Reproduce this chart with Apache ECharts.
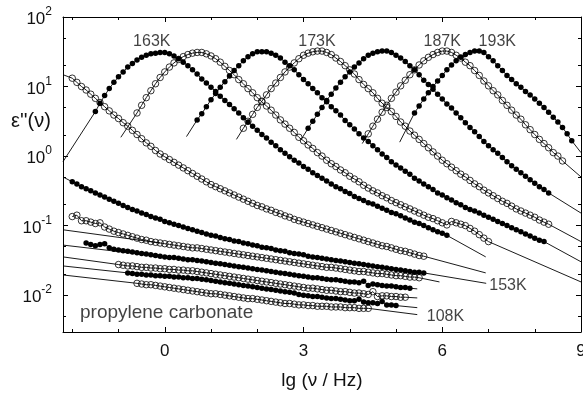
<!DOCTYPE html>
<html><head><meta charset="utf-8">
<script src="https://cdn.jsdelivr.net/npm/echarts@6/dist/echarts.min.js"></script>
<style>html,body{margin:0;padding:0;background:#fff}#c{width:583px;height:395px}</style>
</head><body><div id="c"></div>
<script>
// shared measurement grid: lg(nu/Hz)
const lgNu = [-2.0,-1.9,-1.8,-1.7,-1.6,-1.5,-1.4,-1.3,-1.2,-1.1,-1.0,-0.9,-0.8,-0.7,-0.6,-0.5,-0.4,-0.3,-0.2,-0.1,
0.0,0.1,0.2,0.3,0.4,0.5,0.6,0.7,0.8,0.9,1.0,1.1,1.2,1.3,1.4,1.5,1.6,1.7,1.8,1.9,2.0,2.1,2.2,2.3,2.4,2.5,2.6,2.7,2.8,2.9,
3.0,3.1,3.2,3.3,3.4,3.5,3.6,3.7,3.8,3.9,4.0,4.1,4.2,4.3,4.4,4.5,4.6,4.7,4.8,4.9,5.0,5.1,5.2,5.3,5.4,5.5,5.6,5.7,5.8,5.9,
6.0,6.1,6.2,6.3,6.4,6.5,6.6,6.7,6.8,6.9,7.0,7.1,7.2,7.3,7.4,7.5,7.6,7.7,7.8,7.9,8.0,8.1,8.2,8.3,8.4,8.5,8.6,8.7,8.8];

// lg(eps'') of each curve, starting at the given lg(nu) and continuing on the grid
const c193K_from = 5.4, c193K = [0.62,0.72,0.82,0.91,1.00,1.08,1.16,1.24,1.31,1.37,1.42,1.46,1.49,1.51,1.51,1.49,1.43,1.37,1.30,1.23,
1.16,1.10,1.04,0.99,0.93,0.88,0.82,0.76,0.70,0.63,0.56,0.49,0.41,0.32,0.22];
const c187K_from = 4.4, c187K = [0.32,0.43,0.53,0.63,0.73,0.83,0.92,1.01,1.09,1.17,1.24,1.31,1.37,1.42,1.46,1.49,1.51,1.51,1.49,1.45,
1.41,1.35,1.30,1.23,1.16,1.08,1.01,0.94,0.88,0.80,0.73,0.66,0.59,0.53,0.45,0.38,0.31,0.24,0.18,0.12,0.05,0.00,-0.07];
const c5_from = 3.1, c5 = [0.40,0.50,0.60,0.70,0.80,0.89,0.98,1.06,1.14,1.21,1.28,1.34,1.40,1.45,1.48,1.50,1.51,1.51,1.49,1.45,
1.41,1.36,1.30,1.24,1.17,1.09,1.03,0.96,0.89,0.82,0.75,0.69,0.62,0.55,0.48,0.41,0.35,0.28,0.21,0.15,
0.09,0.04,-0.02,-0.08,-0.14,-0.19,-0.24,-0.29,-0.34,-0.39,-0.44,-0.48,-0.53];
const c173K_from = 1.7, c173K = [0.40,0.50,0.60,0.70,0.79,0.88,0.97,1.05,1.13,1.21,1.28,1.34,1.40,1.45,1.48,1.50,1.51,1.51,1.49,1.46,
1.41,1.36,1.30,1.24,1.18,1.10,1.03,0.97,0.91,0.83,0.76,0.70,0.64,0.57,0.49,0.43,0.36,0.30,0.24,0.18,
0.12,0.06,0.00,-0.06,-0.11,-0.16,-0.21,-0.26,-0.30,-0.35,-0.40,-0.44,-0.49,-0.53,-0.57,-0.61,-0.65,-0.68,-0.72,-0.76,
-0.79,-0.82,-0.85,-0.88,-0.92,-0.95,-0.98];
const c3_from = 0.7, c3 = [0.52,0.61,0.71,0.81,0.90,0.99,1.07,1.15,1.23,1.30,1.37,1.43,1.47,1.50,1.50,1.50,1.48,1.45,1.41,1.35,
1.30,1.24,1.17,1.10,1.04,0.97,0.91,0.84,0.78,0.71,0.65,0.59,0.51,0.45,0.39,0.32,0.26,0.21,0.15,0.09,
0.03,-0.02,-0.08,-0.13,-0.17,-0.22,-0.26,-0.32,-0.36,-0.40,-0.44,-0.48,-0.53,-0.56,-0.60,-0.63,-0.67,-0.70,-0.74,-0.77,
-0.79,-0.82,-0.85,-0.88,-0.91,-0.94,-0.97,-1.00,-1.03,-1.06,-1.09,-1.12,-1.15,-1.18,-1.21,-1.23];
const c2_from = -0.6, c2 = [0.62,0.73,0.84,0.94,1.04,1.13,1.21,1.28,1.34,1.39,1.43,1.46,1.48,1.49,1.49,1.47,1.44,1.40,1.35,1.29,
1.23,1.17,1.10,1.04,0.97,0.91,0.84,0.78,0.72,0.66,0.59,0.52,0.46,0.40,0.34,0.27,0.22,0.16,0.11,0.05,
0.00,-0.06,-0.11,-0.15,-0.20,-0.24,-0.29,-0.33,-0.37,-0.42,-0.46,-0.50,-0.53,-0.57,-0.60,-0.64,-0.67,-0.70,-0.73,-0.76,
-0.79,-0.82,-0.85,-0.88,-0.90,-0.93,-0.96,-0.99,-0.94,-0.96,-0.98,-1.00,-1.04,-1.08,-1.13,-1.18,-1.23];
const c163K_from = -1.5, c163K = [0.64,0.76,0.87,0.97,1.06,1.14,1.21,1.28,1.33,1.38,1.42,1.45,1.47,1.48,1.49,1.49,1.47,1.44,1.40,1.35,
1.30,1.24,1.18,1.11,1.05,0.99,0.93,0.86,0.80,0.74,0.68,0.62,0.55,0.49,0.43,0.37,0.31,0.26,0.20,0.15,
0.09,0.04,-0.01,-0.06,-0.10,-0.15,-0.19,-0.24,-0.28,-0.32,-0.36,-0.40,-0.44,-0.47,-0.51,-0.54,-0.58,-0.61,-0.64,-0.67,
-0.69,-0.72,-0.75,-0.78,-0.81,-0.83,-0.86,-0.89,-0.92,-0.95,-0.97,-1.00,-1.03,-1.06,-1.09,-1.11,-1.14];
const cA_from = -2.0, cA = [1.12,1.06,1.00,0.95,0.89,0.83,0.77,0.71,0.65,0.59,0.54,0.48,0.43,0.37,0.31,0.25,0.19,0.14,0.08,0.03,
-0.01,-0.05,-0.09,-0.13,-0.17,-0.21,-0.25,-0.29,-0.33,-0.37,-0.41,-0.44,-0.47,-0.50,-0.53,-0.56,-0.59,-0.62,-0.65,-0.68,
-0.71,-0.73,-0.76,-0.78,-0.81,-0.83,-0.86,-0.88,-0.91,-0.93,-0.95,-0.97,-0.99,-1.01,-1.03,-1.05,-1.07,-1.09,-1.11,-1.13,
-1.15,-1.17,-1.19,-1.21,-1.23,-1.25,-1.27,-1.29,-1.30,-1.32,-1.34,-1.36,-1.37,-1.39,-1.41,-1.43,-1.44];
const c153K_from = -2.0, c153K = [-0.37,-0.40,-0.44,-0.47,-0.50,-0.53,-0.56,-0.59,-0.62,-0.65,-0.68,-0.71,-0.74,-0.77,-0.79,-0.82,-0.84,-0.87,-0.89,-0.91,
-0.94,-0.96,-0.98,-1.00,-1.02,-1.04,-1.06,-1.08,-1.10,-1.12,-1.14,-1.15,-1.17,-1.19,-1.20,-1.22,-1.23,-1.25,-1.26,-1.28,
-1.29,-1.31,-1.32,-1.33,-1.35,-1.36,-1.37,-1.39,-1.40,-1.41,-1.42,-1.44,-1.45,-1.46,-1.47,-1.48,-1.49,-1.50,-1.51,-1.52,
-1.53,-1.54,-1.55,-1.56,-1.57,-1.58,-1.59,-1.60,-1.61,-1.62,-1.63,-1.64,-1.65,-1.66,-1.67,-1.67,-1.68];
const cL1_from = -2.0, cL1 = [-0.87,-0.85,-0.93,-0.93,-0.95,-0.97,-0.96,-1.02,-1.05,-1.08,-1.10,-1.12,-1.14,-1.16,-1.18,-1.20,-1.21,-1.23,-1.24,-1.25,
-1.26,-1.27,-1.28,-1.29,-1.30,-1.31,-1.32,-1.32,-1.33,-1.34,-1.35,-1.36,-1.37,-1.38,-1.39,-1.40,-1.41,-1.42,-1.43,-1.44,
-1.45,-1.46,-1.47,-1.48,-1.49,-1.50,-1.51,-1.52,-1.53,-1.54,-1.55,-1.56,-1.57,-1.58,-1.59,-1.60,-1.60,-1.61,-1.62,-1.63,
-1.64,-1.65,-1.66,-1.66,-1.67,-1.68,-1.69,-1.69,-1.70,-1.71,-1.72,-1.72,-1.73,-1.74,-1.74,-1.75];
const cL2_from = -1.7, cL2 = [-1.25,-1.27,-1.29,-1.27,-1.26,-1.32,-1.34,-1.35,-1.36,-1.37,-1.38,-1.39,-1.40,-1.41,-1.42,-1.43,-1.44,
-1.45,-1.46,-1.46,-1.47,-1.48,-1.49,-1.49,-1.50,-1.51,-1.52,-1.53,-1.54,-1.55,-1.56,-1.57,-1.58,-1.59,-1.60,-1.61,-1.62,
-1.63,-1.64,-1.65,-1.66,-1.67,-1.68,-1.69,-1.70,-1.71,-1.72,-1.73,-1.74,-1.75,-1.75,-1.76,-1.77,-1.78,-1.78,-1.79,-1.80,
-1.81,-1.81,-1.82,-1.80,-1.86,-1.84,-1.85,-1.86,-1.87,-1.87,-1.88,-1.89,-1.89,-1.90];
const cL3_from = -1.0, cL3 = [-1.56,-1.57,-1.58,-1.58,-1.59,-1.60,-1.60,-1.61,-1.61,-1.62,-1.62,-1.63,-1.63,-1.64,-1.64,-1.65,-1.65,-1.66,-1.67,-1.68,
-1.69,-1.70,-1.71,-1.72,-1.73,-1.74,-1.75,-1.76,-1.77,-1.78,-1.79,-1.80,-1.81,-1.82,-1.83,-1.84,-1.85,-1.86,-1.87,-1.88,
-1.89,-1.90,-1.90,-1.91,-1.92,-1.93,-1.93,-1.94,-1.95,-1.95,-1.96,-1.97,-1.97,-1.98,-1.99,-1.95,-2.02,-2.01,-2.01,-2.02,
-2.02,-2.03,-2.03];
const cL4_from = -0.8, cL4 = [-1.68,-1.69,-1.70,-1.70,-1.71,-1.71,-1.72,-1.72,-1.73,-1.73,-1.74,-1.74,-1.75,-1.75,-1.76,-1.76,-1.77,-1.78,
-1.79,-1.80,-1.81,-1.82,-1.83,-1.84,-1.85,-1.86,-1.87,-1.88,-1.89,-1.90,-1.91,-1.92,-1.93,-1.94,-1.95,-1.96,-1.97,-1.99,
-2.00,-2.01,-2.02,-2.02,-2.03,-2.04,-2.05,-2.05,-2.06,-2.07,-2.08,-2.08,-2.06,-2.10,-2.11,-2.11,-2.12,-2.09,-2.14,-2.14,-2.15];
const c108K_from = -0.6, c108K = [-1.83,-1.84,-1.85,-1.85,-1.86,-1.87,-1.88,-1.89,-1.90,-1.91,-1.92,-1.93,-1.94,-1.95,-1.96,-1.97,
-1.98,-1.98,-1.99,-2.00,-2.01,-2.02,-2.03,-2.04,-2.05,-2.05,-2.06,-2.07,-2.08,-2.09,-2.10,-2.11,-2.12,-2.12,-2.13,-2.14,
-2.14,-2.15,-2.15,-2.16,-2.16,-2.16,-2.17,-2.17,-2.17,-2.18,-2.18,-2.18,-2.19,-2.19,-2.19];

// fitted curves where they run beyond the data: [lg nu, lg eps'']
const fitLow = [
  [[5.08,0.20],[5.4,0.62]], [[4.27,0.18],[4.4,0.32]], [[2.97,0.26],[3.1,0.40]], [[1.55,0.24],[1.7,0.40]],
  [[0.47,0.28],[0.7,0.52]], [[-0.95,0.27],[-0.6,0.62]], [[-2.2,-0.08],[-1.5,0.64]], [[-2.2,1.17],[-2.0,1.12]],
  [[-2.2,-0.30],[-2.0,-0.37]], [[-2.2,-1.06],[-0.1,-1.25]], [[-2.2,-1.28],[0.0,-1.45]], [[-2.2,-1.45],[-1.0,-1.56]],
  [[-2.2,-1.58],[-0.8,-1.68]], [[-2.2,-1.71],[-0.6,-1.83]]
];
const fitHigh = [
  [[8.8,0.22],[9.0,0.05]], [[8.6,-0.07],[9.0,-0.30]], [[8.3,-0.53],[9.0,-0.82]], [[8.3,-0.98],[9.0,-1.23]],
  [[8.2,-1.23],[9.0,-1.52]], [[7.0,-1.23],[9.0,-1.81]], [[6.1,-1.14],[6.94,-1.45]], [[5.6,-1.44],[6.94,-1.68]],
  [[5.6,-1.68],[6.95,-1.83]], [[5.5,-1.75],[5.94,-1.81]], [[5.3,-1.90],[5.46,-1.91]], [[5.2,-2.03],[5.46,-2.04]],
  [[5.0,-2.15],[5.46,-2.18]], [[4.4,-2.19],[5.46,-2.28]]
];

const xMajor = [0,3,6,9];
const xMinor = [-2,-1,0,1,2,3,4,5,6,7,8,9];
const yDecades = [-2,-1,0,1,2];
const yMinorEps = [0.005,0.02,0.05,0.2,0.5,2,5,20,50];
const tempText = ['163K','173K','187K','193K','153K','108K'];
const tempAt = [[-0.28,1.645],[3.29,1.645],[6.0,1.645],[7.19,1.645],[7.42,-1.866],[6.07,-2.31]];
const sampleText = 'propylene carbonate';

function pts(from, vals){
  const i0 = lgNu.findIndex(v => Math.abs(v - from) < 1e-9);
  return vals.map((v,k) => [lgNu[i0+k], v]);
}
const FONT = '"Liberation Sans", Arial, sans-serif';
const INK = '#111';

const curves = [
  [c108K_from,c108K,true],[cL4_from,cL4,false],[cL3_from,cL3,true],[cL2_from,cL2,false],[cL1_from,cL1,true],
  [c153K_from,c153K,false],[cA_from,cA,true],[c163K_from,c163K,false],[c2_from,c2,true],[c3_from,c3,false],
  [c173K_from,c173K,true],[c5_from,c5,false],[c187K_from,c187K,true],[c193K_from,c193K,false]
];

const series = [];
fitLow.concat(fitHigh).forEach(seg => series.push({
  type:'line', data:seg, symbol:'none', silent:true, z:1,
  lineStyle:{color:'#000', width:0.9}, animation:false
}));
curves.forEach(([from, vals, open]) => series.push({
  type:'line', data:pts(from, vals), symbol:'circle', symbolSize: open ? 6.5 : 5.5, showSymbol:true,
  silent:true, z: open ? 2 : 3, animation:false,
  lineStyle:{color:'#000', width:0.9},
  itemStyle: open ? {color:'rgba(255,255,255,0)', borderColor:'#000', borderWidth:0.8} : {color:'#000'}
}));
series.push({
  type:'scatter', silent:true, z:5, symbolSize:1, itemStyle:{color:'rgba(0,0,0,0)'}, animation:false,
  data: tempAt.map((p,i) => ({value:p, label:{show:true, position:'inside', formatter:tempText[i],
        fontSize:16, color:INK, fontFamily:FONT}}))
    .concat([{value:[0.04,-2.25], label:{show:true, position:'inside', formatter:sampleText,
        fontSize:19, color:INK, fontFamily:FONT}}])
});

const xBase = {type:'value', min:-2.2, max:9, splitLine:{show:false}};
const yBase = {type:'value', min:-2.53, max:2, splitLine:{show:false}};
const lineOn = {show:true, onZero:false, lineStyle:{color:'#000', width:1}};
const lineOff = {show:false, onZero:false};
const yMinor = yMinorEps.map(v => Math.log10(v));

const option = {
  animation:false,
  grid:{left:63, top:17, width:518, height:315, containLabel:false, outerBoundsMode:'none'},
  xAxis:[
    Object.assign({}, xBase, {position:'bottom', axisLine:lineOn,
      axisTick:{inside:true, length:5, customValues:xMajor, lineStyle:{color:'#000'}},
      axisLabel:{customValues:xMajor, margin:11, fontSize:17, color:INK, fontFamily:FONT, hideOverlap:false}}),
    Object.assign({}, xBase, {position:'bottom', axisLine:lineOff,
      axisTick:{inside:true, length:3, customValues:xMinor, lineStyle:{color:'#000'}}, axisLabel:{show:false}}),
    Object.assign({}, xBase, {position:'top', axisLine:lineOn,
      axisTick:{inside:true, length:5, customValues:xMajor, lineStyle:{color:'#000'}}, axisLabel:{show:false}}),
    Object.assign({}, xBase, {position:'top', axisLine:lineOff,
      axisTick:{inside:true, length:3, customValues:xMinor, lineStyle:{color:'#000'}}, axisLabel:{show:false}})
  ],
  yAxis:[
    Object.assign({}, yBase, {position:'left', axisLine:lineOn,
      axisTick:{inside:true, length:5, customValues:yDecades, lineStyle:{color:'#000'}},
      axisLabel:{customValues:yDecades, margin:11, color:INK, fontFamily:FONT,
        formatter: v => '{b|10}{s|' + Math.round(v) + '}',
        rich:{b:{fontSize:17, lineHeight:22, verticalAlign:'bottom', color:INK, fontFamily:FONT},
              s:{fontSize:12, lineHeight:12, verticalAlign:'top', color:INK, fontFamily:FONT}}}}),
    Object.assign({}, yBase, {position:'left', axisLine:lineOff,
      axisTick:{inside:true, length:3, customValues:yMinor, lineStyle:{color:'#000'}}, axisLabel:{show:false}}),
    Object.assign({}, yBase, {position:'right', axisLine:lineOn,
      axisTick:{inside:true, length:5, customValues:yDecades, lineStyle:{color:'#000'}}, axisLabel:{show:false}}),
    Object.assign({}, yBase, {position:'right', axisLine:lineOff,
      axisTick:{inside:true, length:3, customValues:yMinor, lineStyle:{color:'#000'}}, axisLabel:{show:false}})
  ],
  graphic:[
    {type:'text', x:31, y:121, style:{text:"ε''(ν)", fontSize:20, fontFamily:FONT, fill:INK, align:'center', verticalAlign:'middle'}},
    {type:'text', x:322, y:381, style:{text:'lg (ν / Hz)', fontSize:19, fontFamily:FONT, fill:INK, align:'center', verticalAlign:'middle'}}
  ],
  series: series
};
const chart = echarts.init(document.getElementById('c'), null, {renderer:'canvas'});
chart.setOption(option);
</script></body></html>
